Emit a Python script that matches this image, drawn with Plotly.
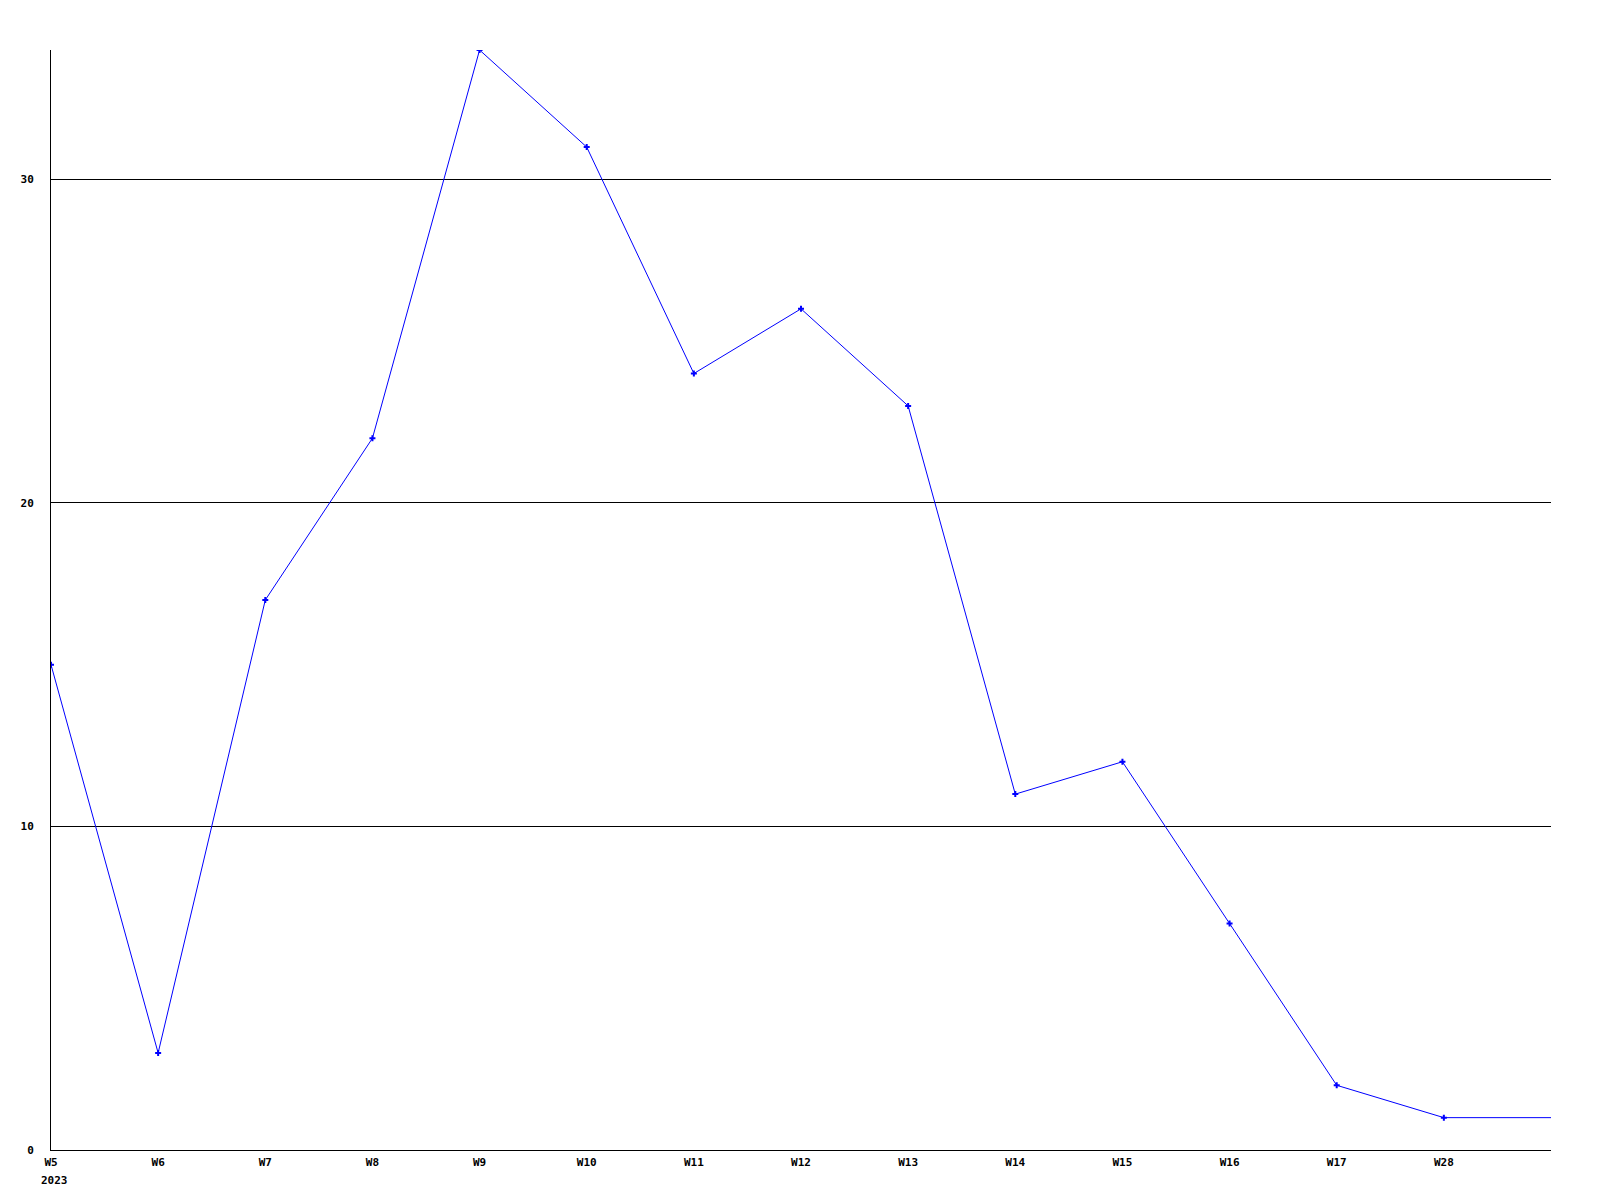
import plotly.graph_objects as go

weeks = ["W5", "W6", "W7", "W8", "W9", "W10", "W11", "W12", "W13", "W14", "W15", "W16", "W17", "W28"]
values = [15, 3, 17, 22, 34, 31, 24, 26, 23, 11, 12, 7, 2, 1]
year_label = "2023"
y_ticks = [0, 10, 20, 30]

xpos = list(range(len(weeks)))
x_end = len(weeks)

font = dict(family="DejaVu Sans Mono", size=11, color="black", weight="bold")

fig = go.Figure()
# continuation of last value to the right edge
fig.add_trace(go.Scatter(x=[xpos[-1], x_end], y=[values[-1], values[-1]], mode="lines",
                         line=dict(color="#0000ff", width=1), hoverinfo="skip", showlegend=False))
fig.add_trace(go.Scatter(x=xpos, y=values, mode="lines+markers",
                         line=dict(color="#0000ff", width=1),
                         marker=dict(symbol="cross", size=5, color="#0000ff"),
                         showlegend=False))

fig.update_layout(
    width=1600, height=1200,
    margin=dict(l=43, r=57, t=42, b=58),
    paper_bgcolor="white", plot_bgcolor="white",
    font=font,
    xaxis=dict(range=[0, x_end], tickvals=xpos, ticktext=weeks, showgrid=False,
               zeroline=False, showline=True, linecolor="black", linewidth=1,
               ticks="", tickfont=font, ticklabelstandoff=2),
    yaxis=dict(range=[0, 34], tickvals=y_ticks, showgrid=True, gridcolor="black", gridwidth=1,
               zeroline=False, showline=True, linecolor="black", linewidth=1,
               ticks="", tickfont=font, ticklabelstandoff=14),
)
fig.add_annotation(x=0, y=0, xref="x", yref="y", text=year_label, showarrow=False,
                   xanchor="left", yanchor="top", xshift=-12, yshift=-22, font=font)

fig.write_html("out.html")
